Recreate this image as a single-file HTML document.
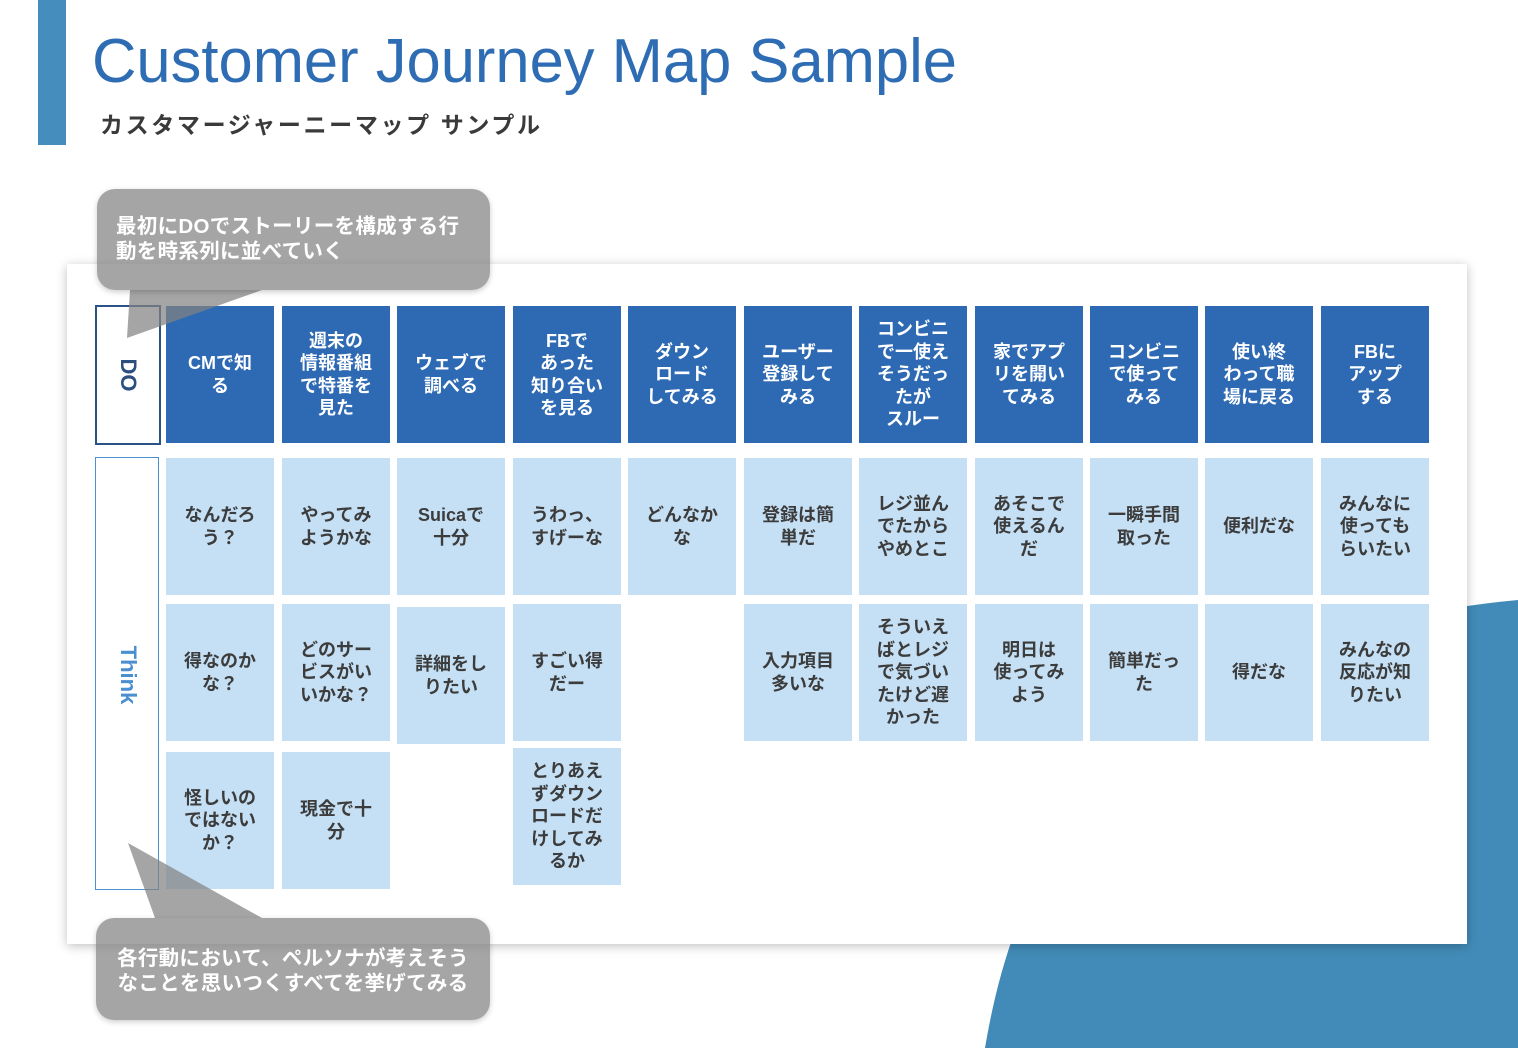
<!DOCTYPE html>
<html><head><meta charset="utf-8"><style>
body{margin:0;width:1518px;height:1048px;position:relative;overflow:hidden;background:#fff;font-family:"Liberation Sans","Noto Sans CJK JP",sans-serif;}
.a{position:absolute}
.c{position:absolute;width:108px;display:flex;align-items:center;justify-content:center;text-align:center;font-weight:bold;font-size:18px;line-height:22.5px;color:#3c3c3c;background:#c5e0f5}
.d{background:#2e6ab3;color:#fff}
.call{position:absolute;background:rgba(130,130,130,0.72);border-radius:18px;color:#fff;font-size:20.5px;line-height:25px;font-weight:bold;letter-spacing:0.3px}
</style></head><body>
<div class="a" style="left:38px;top:0;width:28px;height:145px;background:#448dbd"></div>
<svg class="a" style="left:0;top:0" width="1518" height="1048">
<path d="M985 1048 C1010 900 1090 640 1518 600 L1518 1048 Z" fill="#428bb8"/>
<text x="92" y="82" font-family="Liberation Sans" font-size="62" fill="#2e6db4" textLength="865" lengthAdjust="spacingAndGlyphs">Customer Journey Map Sample</text>
<text x="100" y="133" font-family="Liberation Sans,Noto Sans CJK JP,sans-serif" font-weight="bold" font-size="23" fill="#3a3a3a" textLength="440" lengthAdjust="spacing">カスタマージャーニーマップ サンプル</text>
</svg>
<div class="a" style="left:67px;top:264px;width:1400px;height:680px;background:#fff;box-shadow:0 2px 10px rgba(0,0,0,0.25)"></div>
<div class="a" style="left:95px;top:305px;width:62px;height:136px;border:2px solid #2c5385;background:#fff"></div>
<div class="a" style="left:96px;top:350px;width:64px;height:50px;display:flex;align-items:center;justify-content:center;font-weight:bold;font-size:22px;color:#2c4f80;transform:rotate(90deg)">DO</div>
<div class="a" style="left:95px;top:457px;width:62px;height:431px;border:1.5px solid #4a8fd0;background:#fff"></div>
<div class="a" style="left:86px;top:650px;width:84px;height:50px;display:flex;align-items:center;justify-content:center;font-weight:bold;font-size:22px;color:#4a8fd0;transform:rotate(90deg)">Think</div>

<div class="c d" style="left:166px;top:306px;height:137px">CMで知<br>る</div>
<div class="c d" style="left:282px;top:306px;height:137px">週末の<br>情報番組<br>で特番を<br>見た</div>
<div class="c d" style="left:397px;top:306px;height:137px">ウェブで<br>調べる</div>
<div class="c d" style="left:513px;top:306px;height:137px">FBで<br>あった<br>知り合い<br>を見る</div>
<div class="c d" style="left:628px;top:306px;height:137px">ダウン<br>ロード<br>してみる</div>
<div class="c d" style="left:744px;top:306px;height:137px">ユーザー<br>登録して<br>みる</div>
<div class="c d" style="left:859px;top:306px;height:137px">コンビニ<br>で一使え<br>そうだっ<br>たが<br>スルー</div>
<div class="c d" style="left:975px;top:306px;height:137px">家でアプ<br>リを開い<br>てみる</div>
<div class="c d" style="left:1090px;top:306px;height:137px">コンビニ<br>で使って<br>みる</div>
<div class="c d" style="left:1205px;top:306px;height:137px">使い終<br>わって職<br>場に戻る</div>
<div class="c d" style="left:1321px;top:306px;height:137px">FBに<br>アップ<br>する</div>

<div class="c" style="left:166px;top:458px;height:137px">なんだろ<br>う？</div>
<div class="c" style="left:282px;top:458px;height:137px">やってみ<br>ようかな</div>
<div class="c" style="left:397px;top:458px;height:137px">Suicaで<br>十分</div>
<div class="c" style="left:513px;top:458px;height:137px">うわっ、<br>すげーな</div>
<div class="c" style="left:628px;top:458px;height:137px">どんなか<br>な</div>
<div class="c" style="left:744px;top:458px;height:137px">登録は簡<br>単だ</div>
<div class="c" style="left:859px;top:458px;height:137px">レジ並ん<br>でたから<br>やめとこ</div>
<div class="c" style="left:975px;top:458px;height:137px">あそこで<br>使えるん<br>だ</div>
<div class="c" style="left:1090px;top:458px;height:137px">一瞬手間<br>取った</div>
<div class="c" style="left:1205px;top:458px;height:137px">便利だな</div>
<div class="c" style="left:1321px;top:458px;height:137px">みんなに<br>使っても<br>らいたい</div>

<div class="c" style="left:166px;top:604px;height:137px">得なのか<br>な？</div>
<div class="c" style="left:282px;top:604px;height:137px">どのサー<br>ビスがい<br>いかな？</div>
<div class="c" style="left:397px;top:607px;height:137px">詳細をし<br>りたい</div>
<div class="c" style="left:513px;top:604px;height:137px">すごい得<br>だー</div>
<div class="c" style="left:744px;top:604px;height:137px">入力項目<br>多いな</div>
<div class="c" style="left:859px;top:604px;height:137px">そういえ<br>ばとレジ<br>で気づい<br>たけど遅<br>かった</div>
<div class="c" style="left:975px;top:604px;height:137px">明日は<br>使ってみ<br>よう</div>
<div class="c" style="left:1090px;top:604px;height:137px">簡単だっ<br>た</div>
<div class="c" style="left:1205px;top:604px;height:137px">得だな</div>
<div class="c" style="left:1321px;top:604px;height:137px">みんなの<br>反応が知<br>りたい</div>

<div class="c" style="left:166px;top:752px;height:137px">怪しいの<br>ではない<br>か？</div>
<div class="c" style="left:282px;top:752px;height:137px">現金で十<br>分</div>
<div class="c" style="left:513px;top:748px;height:137px">とりあえ<br>ずダウン<br>ロードだ<br>けしてみ<br>るか</div>

<svg class="a" style="left:0;top:0" width="1518" height="1048">
<path d="M130 290 L127 338 L262 290 Z" fill="rgba(130,130,130,0.72)"/>
<path d="M128 843 L155 918 L262 918 Z" fill="rgba(130,130,130,0.72)"/>
</svg>
<div class="call" style="left:97px;top:189px;width:393px;height:101px;box-shadow:0 2px 6px rgba(0,0,0,0.2)"><div style="position:absolute;left:19px;top:25px;white-space:nowrap">最初にDOでストーリーを構成する行<br>動を時系列に並べていく</div></div>
<div class="call" style="left:96px;top:918px;width:394px;height:102px;text-align:center;box-shadow:0 2px 6px rgba(0,0,0,0.2)"><div style="position:absolute;left:0;width:394px;top:28px;white-space:nowrap">各行動において、ペルソナが考えそう<br>なことを思いつくすべてを挙げてみる</div></div>
</body></html>
